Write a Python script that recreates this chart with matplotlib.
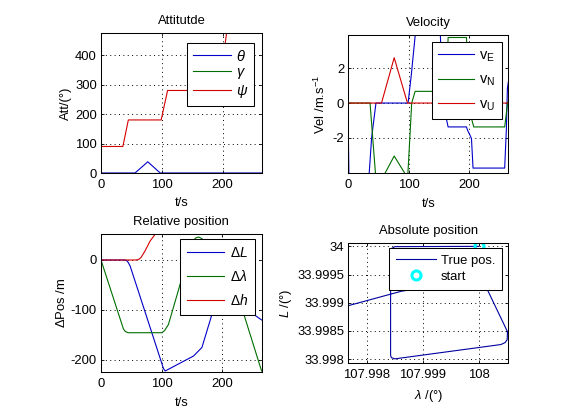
import matplotlib
matplotlib.use('Agg')
import matplotlib.pyplot as plt

# ---------------- data ----------------
time_xticks = [0, 100, 200]

# Attitude
t_theta = [0, 56, 77, 97.5, 265]
theta = [0, 0, 38, 0, 0]
t_gamma = [0, 265]
gamma = [0, 0]
t_psi = [0, 36, 45, 99, 109.6, 150, 163, 200, 207, 257, 265]
psi = [90, 90, 180, 180, 280, 280, 370, 370, 480, 480, 560]
att_yticks = [0, 100, 200, 300, 400]

# Velocity
t_vE = [0, 1.2, 33.5, 38.6, 45.8, 99, 104, 112, 152, 153.5, 163, 165.3, 195.7, 198, 201, 204, 206.6, 259, 261.8, 263.5, 265]
vE = [-1.64, -4.6, -4.6, -2.0, 0, 0, 1.5, 4.3, 4.3, 3.0, -1.0, -1.37, -1.37, -1.6, -1.8, -2.04, -3.73, -3.73, -1.5, 0.84, 1.2]
t_vN = [0, 36, 46, 60, 76, 94.5, 98, 105, 110.7, 163, 165.3, 195.7, 201, 207.8, 259, 264, 265]
vN = [0, 0, -4.5, -4.08, -3.04, -4.08, -4.5, 0, 0.67, 0.67, 3.76, 3.76, -0.5, -1.37, -1.37, 0.05, 0.1]
t_vU = [0, 55, 76, 98, 265]
vU = [0, 0, 2.6, 0, 0]
vel_yticks = [-2, 0, 2]

# Relative position
t_dL = [0, 39, 42, 45, 48, 51, 103, 105.8, 152.6, 166.4, 188.4, 196, 206, 227, 265]
dL = [0, 0, -1, -5, -12, -23, -217, -222, -192, -175, -87, -60, -64, -88, -120]
t_dlam = [0, 37, 40, 45, 100.3, 105, 111.2, 128, 150, 156, 161, 166, 172, 206, 230, 263, 265]
dlam = [0, -138, -143, -145.5, -145.4, -141, -129, -59, 35, 44, 46, 43, 36, -8, -87, -215, -222]
t_dh = [0, 58, 62, 66, 73, 81, 89, 98, 265]
dh = [0, 0, 1, 5, 19, 38, 51, 56, 56]
rel_yticks = [-200, -100, 0]

# Absolute position
lon_path = [108.0, 107.998503, 107.998440, 107.998426, 107.998426, 107.998440, 107.998503,
            108.000398, 108.000474, 108.000510, 108.000515, 108.000160, 108.000066,
            107.999977, 107.999835, 107.998622, 107.997668]
lat_path = [34.0, 33.999995, 33.999960, 33.999898, 33.998065, 33.998025, 33.998004,
            33.998258, 33.998293, 33.998346, 33.998486, 33.999223, 33.999433,
            33.999486, 33.999381, 33.999205, 33.998947]
start_lon = [108.0]
start_lat = [34.0]
abs_xticks = [107.998, 107.999, 108.0]
abs_xticklabels = ['107.998', '107.999', '108']
abs_yticks = [33.998, 33.9985, 33.999, 33.9995, 34.0]
abs_yticklabels = ['33.998', '33.9985', '33.999', '33.9995', '34']

# ---------------- style ----------------
plt.rcParams.update({
    'font.family': ['Liberation Sans', 'DejaVu Sans'],
    'font.size': 9.4,
    'axes.titlesize': 9.4,
    'axes.labelsize': 9.4,
    'legend.fontsize': 9.4,
    'mathtext.fontset': 'custom',
    'mathtext.rm': 'Liberation Sans',
    'mathtext.it': 'Liberation Sans:italic',
    'mathtext.bf': 'Liberation Sans:bold',
    'axes.unicode_minus': False,
    'axes.linewidth': 0.75,
    'xtick.direction': 'in', 'ytick.direction': 'in',
    'xtick.top': True, 'ytick.right': True,
    'xtick.major.size': 2.5, 'ytick.major.size': 2.5,
    'xtick.major.width': 0.6, 'ytick.major.width': 0.6,
    'xtick.major.pad': 4, 'ytick.major.pad': 3,
    'lines.linewidth': 0.8,
})

BLUE = '#0000c8'
GREEN = '#006e00'
RED = '#d40000'

W, H = 561, 420
fig = plt.figure(figsize=(W / 100, H / 100), dpi=100)


def ax_px(x0, y0, x1, y1):
    return fig.add_axes([x0 / W, 1 - y1 / H, (x1 - x0) / W, (y1 - y0) / H])


def style(ax):
    ax.grid(True, color='k', linestyle=(0, (1, 3.5)), linewidth=0.7)
    ax.set_axisbelow(True)


def legend(ax, xr, yt, **kw):
    leg = ax.legend(loc='upper right', bbox_to_anchor=(xr / W, 1 - yt / H),
                    bbox_transform=fig.transFigure, frameon=True, fancybox=False,
                    framealpha=1, edgecolor='k', borderaxespad=0, **kw)
    leg.get_frame().set_linewidth(0.75)
    return leg


XPAD = 5

# Attitude
ax1 = ax_px(101, 33.3, 262, 173)
ax1.plot(t_theta, theta, color=BLUE, label=r'$\theta$')
ax1.plot(t_gamma, gamma, color=GREEN, label=r'$\gamma$')
ax1.plot(t_psi, psi, color=RED, label=r'$\psi$')
ax1.set_xlim(0, 265)
ax1.set_ylim(0, 474)
ax1.set_xticks(time_xticks)
ax1.set_yticks(att_yticks)
ax1.set_title('Attitutde', pad=6.5)
ax1.set_xlabel('t/s', labelpad=XPAD)
ax1.set_ylabel('Att/(°)', labelpad=2)
style(ax1)
legend(ax1, 254.3, 42.7, handlelength=2.6, handletextpad=0.35, borderpad=0.4,
       labelspacing=0.12, prop={'size': 10.5})

# Velocity
ax2 = ax_px(348.3, 34.7, 508.3, 173.3)
ax2.plot(t_vE, vE, color=BLUE, label=r'$\mathrm{v}_\mathrm{E}$')
ax2.plot(t_vN, vN, color=GREEN, label=r'$\mathrm{v}_\mathrm{N}$')
ax2.plot(t_vU, vU, color=RED, label=r'$\mathrm{v}_\mathrm{U}$')
ax2.set_xlim(0, 265)
ax2.set_ylim(-4.03, 3.92)
ax2.set_xticks(time_xticks)
ax2.set_yticks(vel_yticks)
ax2.set_title('Velocity', pad=6.5)
ax2.set_xlabel('t/s', labelpad=XPAD)
ax2.set_ylabel(r'Vel /m.s$^{-1}$', labelpad=3.5)
style(ax2)
legend(ax2, 501.7, 42, handlelength=2.5, handletextpad=0.35, borderpad=0.42,
       labelspacing=0.64, prop={'size': 10.5})

# Relative position
ax3 = ax_px(101, 234, 261.7, 372)
ax3.plot(t_dL, dL, color=BLUE, label=r'$\Delta L$')
ax3.plot(t_dlam, dlam, color=GREEN, label=r'$\Delta \lambda$')
ax3.plot(t_dh, dh, color=RED, label=r'$\Delta h$')
ax3.set_xlim(0, 265)
ax3.set_ylim(-224, 52)
ax3.set_xticks(time_xticks)
ax3.set_yticks(rel_yticks)
ax3.set_title('Relative position', pad=6.5)
ax3.set_xlabel('t/s', labelpad=XPAD)
ax3.set_ylabel(r'$\Delta$Pos /m', labelpad=2)
style(ax3)
legend(ax3, 255, 239, handlelength=2.7, handletextpad=0.4, borderpad=0.5,
       labelspacing=0.65, prop={'size': 10})

# Absolute position
ax4 = ax_px(348.3, 242.7, 508.3, 363.3)
ax4.plot(lon_path, lat_path, color='#0000a0', label='True pos.')
ax4.plot(start_lon, start_lat, linestyle='none', marker='o', mfc='none', mec='#00ffff',
         ms=6.5, mew=2.2, label='start')
ax4.set_xlim(107.99767, 108.00053)
ax4.set_ylim(33.997925, 34.000065)
ax4.set_xticks(abs_xticks)
ax4.set_xticklabels(abs_xticklabels)
ax4.set_yticks(abs_yticks)
ax4.set_yticklabels(abs_yticklabels)
ax4.set_title('Absolute position', pad=6.5)
ax4.set_xlabel(r'$\lambda$ /(°)', labelpad=XPAD)
ax4.set_ylabel(r'$L$ /(°)', labelpad=2)
style(ax4)
legend(ax4, 501.7, 248.3, handlelength=3.1, handletextpad=0.35, borderpad=0.5,
       labelspacing=0.3)

fig.savefig('out.png', dpi=100)
